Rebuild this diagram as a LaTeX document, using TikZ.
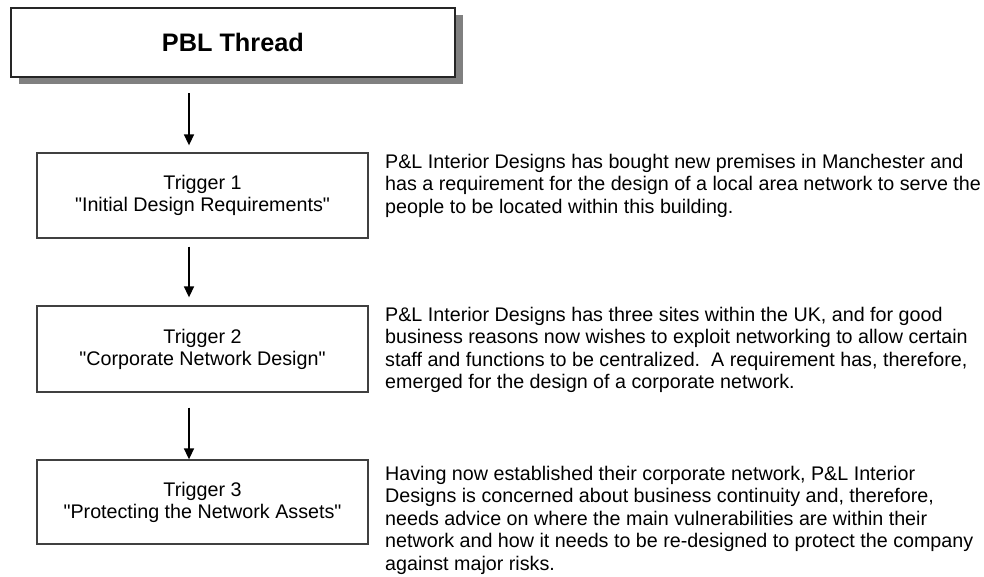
\documentclass[tikz,border=0pt]{standalone}
\usepackage{fontspec}
\newfontfamily\libsans{Liberation Sans}
\usetikzlibrary{arrows.meta,shadows}
\frenchspacing
\begin{document}
\begin{tikzpicture}[x=1pt,y=-1pt,
  titlebox/.style={draw=black!85, line width=2pt, fill=white, minimum width=444pt, minimum height=69pt, inner sep=0pt,
    drop shadow={shadow xshift=8pt, shadow yshift=-7pt, fill=black!50, opacity=1},
    font=\libsans\fontsize{25.3}{28}\selectfont\bfseries},
  trigbox/.style={draw=black!75, line width=1.3pt, fill=white, minimum width=331pt, minimum height=85pt, inner sep=0pt,
    align=center, font=\libsans\fontsize{19.7}{22}\selectfont},
  desc/.style={anchor=base west, inner sep=0pt, font=\libsans\fontsize{19.7}{22.5}\selectfont},
  flow/.style={-{Triangle[length=11pt,width=10pt]}, line width=1.6pt, black}
]
\useasboundingbox (0,0) rectangle (984,577);

\node[titlebox] (top) at (232.9,42.8) {PBL Thread};
\node[trigbox] (t1) at (202.5,195.5) {Trigger 1\\"Initial Design Requirements"};
\node[trigbox, minimum height=86pt] (t2) at (202.5,349) {Trigger 2\\"Corporate Network Design"};
\node[trigbox, minimum height=84pt] (t3) at (202.5,502) {Trigger 3\\"Protecting the Network Assets"};

\coordinate (ax) at (189,0);
\draw[flow, shorten <=15pt, shorten >=7pt] (top.south -| ax) -- (t1.north -| ax);
\draw[flow, shorten <=8pt, shorten >=8pt] (t1.south -| ax) -- (t2.north -| ax);
\draw[flow, shorten <=15pt, shorten >=0pt] (t2.south -| ax) -- (t3.north -| ax);

\node[desc] (d1) at (385,168.3) {\begin{tabular}[t]{@{}l@{}}
P\&L Interior Designs has bought new premises in Manchester and\\
has a requirement for the design of a local area network to serve the\\
people to be located within this building.
\end{tabular}};

\node[desc] (d2) at (385,321) {\begin{tabular}[t]{@{}l@{}}
P\&L Interior Designs has three sites within the UK, and for good\\
business reasons now wishes to exploit networking to allow certain\\
staff and functions to be centralized.\ \ A requirement has, therefore,\\
emerged for the design of a corporate network.
\end{tabular}};

\node[desc] (d3) at (385,480) {\begin{tabular}[t]{@{}l@{}}
Having now established their corporate network, P\&L Interior\\
Designs is concerned about business continuity and, therefore,\\
needs advice on where the main vulnerabilities are within their\\
network and how it needs to be re-designed to protect the company\\
against major risks.
\end{tabular}};
\end{tikzpicture}
\end{document}
